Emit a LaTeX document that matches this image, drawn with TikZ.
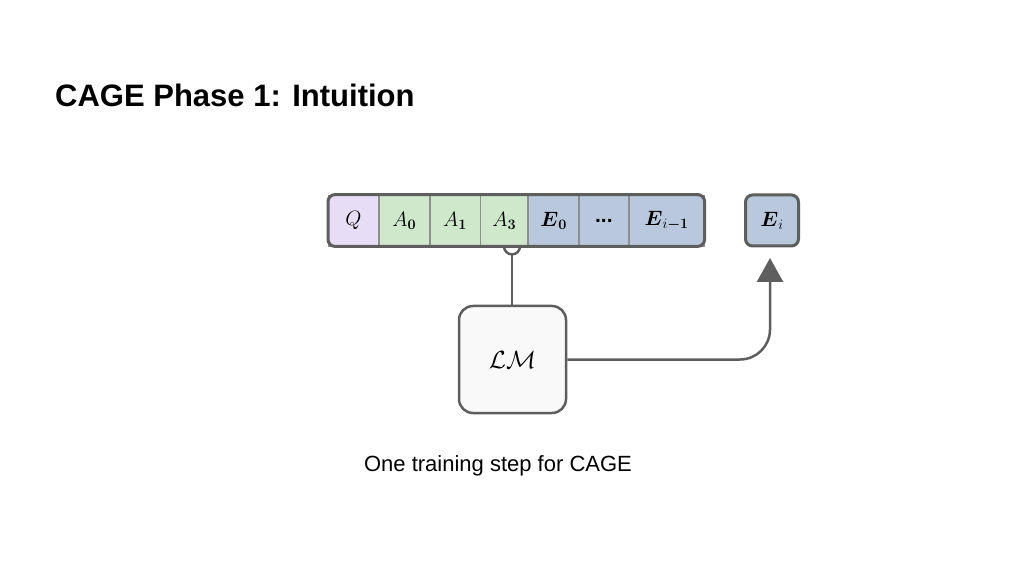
\documentclass[tikz,border=0pt]{standalone}
\usepackage{fontspec}
\setmainfont{Liberation Sans}
\usepackage{amsmath}
\usepackage{xcolor}
\usetikzlibrary{positioning, arrows.meta}
\definecolor{qfill}{HTML}{E8DDF7}
\definecolor{afill}{HTML}{CFE8CC}
\definecolor{efill}{HTML}{B9C8DC}
\definecolor{edge}{HTML}{5E5E5E}

\begin{document}
\begin{tikzpicture}[x=1pt, y=1pt, >=Stealth,
      cell/.style={draw=edge!70, line width=0.8pt, minimum height=51pt, inner sep=0pt, anchor=west, font=\fontsize{21}{24}\selectfont},
      qcell/.style={cell, fill=qfill},
      acell/.style={cell, fill=afill},
      ecell/.style={cell, fill=efill},
      lm/.style={draw=edge, line width=2.5pt, rounded corners=14pt, fill=gray!5, minimum width=107pt, minimum height=107pt, font=\fontsize{28}{32}\selectfont}]
    \useasboundingbox (0,0) rectangle (1024,576);

    \node[font=\bfseries\fontsize{31}{36}\selectfont, anchor=west, inner sep=0pt] (title) at (55,481) {CAGE Phase 1: Intuition};

    % sequence
    \node[qcell, minimum width=50pt] (q) at (328,355.5) {$Q$};
    \node[acell, minimum width=50pt, right=0pt of q] (a0) {$A_{\boldsymbol{0}}$};
    \node[acell, minimum width=50pt, right=0pt of a0] (a1) {$A_{\boldsymbol{1}}$};
    \node[acell, minimum width=47pt, right=0pt of a1] (a3) {$A_{\boldsymbol{3}}$};
    \node[ecell, minimum width=50pt, right=0pt of a3] (e0) {$\boldsymbol{E}_{\boldsymbol{0}}$};
    \node[ecell, minimum width=49pt, right=0pt of e0] (dots) {\textbf{...}};
    \node[ecell, minimum width=75pt, right=0pt of dots] (elast) {$\boldsymbol{E}_{i\boldsymbol{-1}}$};
    \draw[edge, line width=3pt, rounded corners=7pt] (q.north west) rectangle (elast.south east);

    \node[ecell, draw=edge, line width=3pt, rounded corners=7pt, minimum width=53pt] (ei) at (744,355.5) {$\boldsymbol{E}_i$};

    \node[lm] (model) at (512.5,216.5) {$\mathcal{LM}$};

    % connectors
    \coordinate (hook) at (512,330);
    \draw[edge, line width=2.5pt] (hook |- a3.south) ++(-8,0) arc[start angle=180, end angle=360, radius=8];
    \draw[edge, line width=2.5pt] (512,322) -- (hook |- model.north);
    \draw[edge, line width=2.5pt, rounded corners=30pt, -{Triangle[length=24pt, width=26pt]}]
      (model.east) -- (770,216.5) -- (770,318);

    \node[font=\fontsize{22}{26}\selectfont] (caption) at (498,110) {One training step for CAGE};
\end{tikzpicture}
\end{document}
